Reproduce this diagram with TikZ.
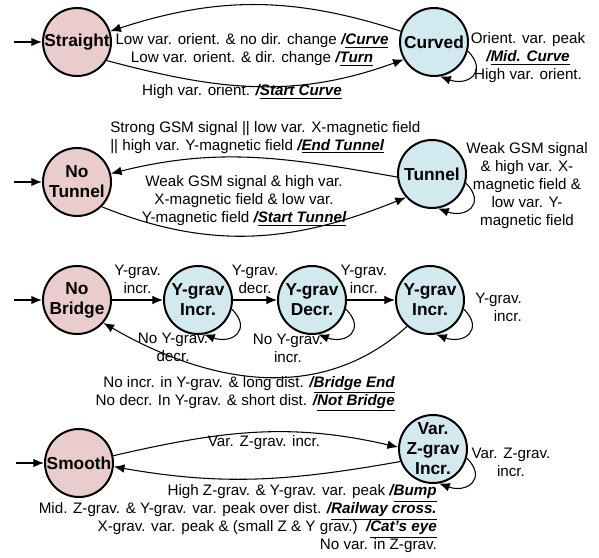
\documentclass[tikz,border=0pt]{standalone}
\usepackage{fontspec}
\setmainfont{Liberation Sans}
\usetikzlibrary{arrows.meta}
\definecolor{initfill}{RGB}{234,204,204}
\definecolor{statefill}{RGB}{210,233,240}
\newcommand{\actn}[1]{\textbf{\textit{/\underline{#1}}}}

\begin{document}
\begin{tikzpicture}[x=0.75pt,y=0.75pt,
  state/.style={circle,draw,line width=1.5pt,fill=statefill,minimum size=51pt,inner sep=0pt,align=center,font=\fontsize{13}{15}\selectfont\bfseries},
  init/.style={state,fill=initfill},
  trans/.style={-{Latex[length=8pt,width=6.5pt]},line width=0.8pt},
  entry/.style={trans,line width=1.2pt},
  selfloop/.style={trans,out=-45,in=-20,looseness=2},
  lbl/.style={font=\fontsize{11.4}{13.5}\selectfont,inner sep=0pt}]
\useasboundingbox (0,0) rectangle (599,557);

% straight / curved
\node[init] (str) at (77,515) {Straight};
\node[state] (curv) at (434,515) {Curved};
\coordinate (str0) at (14,515);
\draw[entry] (str0) -- (str);
\draw[trans] (curv) to[bend right=18] (str);
\draw[trans] (str.-32) to[out=-15,in=200] (curv.-150);
\draw[selfloop] (curv.-15) to (curv.-80);
\node[lbl,align=center] (lowvar) at (252,507) {Low var. orient. \& no dir. change \actn{Curve}\\Low var. orient. \& dir. change \actn{Turn}};
\node[lbl] (highvar) at (242,465) {High var. orient. \actn{Start Curve}};
\node[lbl,align=center] (peak) at (528,499) {Orient. var. peak\\\actn{Mid. Curve}\\High var. orient.};

% tunnel
\node[init] (notun) at (77,375) {No\\Tunnel};
\node[state] (tun) at (432,383) {Tunnel};
\coordinate (notun0) at (14,375);
\draw[entry] (notun0) -- (notun);
\draw[trans] (tun.185) to[out=170,in=14] (notun.14);
\draw[trans] (notun.-45) to[out=-22,in=202] (tun.222);
\draw[selfloop] (tun.-15) to (tun.-80);
\node[lbl,anchor=west,align=left] (gsmoff) at (110,419.5) {Strong GSM signal || low var. X-magnetic field\\|| high var. Y-magnetic field \actn{End Tunnel}};
\node[lbl,align=center] (gsmon) at (244,356) {Weak GSM signal \& high var.\\X-magnetic field \& low var.\\Y-magnetic field \actn{Start Tunnel}};
\node[lbl,align=center] (gsmstay) at (527,371) {Weak GSM signal\\\& high var. X-\\magnetic field \&\\low var. Y-\\magnetic field};

% bridge
\node[init] (nob) at (77,257) {No\\Bridge};
\node[state] (yinc) at (198,257) {Y-grav\\Incr.};
\node[state] (ydec) at (312,257) {Y-grav\\Decr.};
\node[state] (yinc2) at (430,257) {Y-grav\\Incr.};
\coordinate (nob0) at (14,257);
\draw[entry] (nob0) -- (nob);
\draw[trans] (nob) -- node[lbl,above=4pt,align=center] (incup) {Y-grav.\\incr.} (yinc);
\draw[trans] (yinc) -- node[lbl,above=4pt,align=center] (decup) {Y-grav.\\decr.} (ydec);
\draw[trans] (ydec) -- node[lbl,above=4pt,align=center,pos=0.35] (incup2) {Y-grav.\\incr.} (yinc2);
\draw[selfloop] (yinc.-15) to (yinc.-80);
\draw[selfloop] (ydec.-15) to (ydec.-80);
\draw[selfloop] (yinc2.-15) to (yinc2.-80);
\node[lbl,align=center] (nodec) at (173,210) {No Y-grav.\\decr.};
\node[lbl,align=center] (noinc) at (288,209) {No Y-grav.\\incr.};
\node[lbl,anchor=east,align=right] (incstay) at (522,249.5) {Y-grav.\\incr.};
\draw[trans] (yinc2.229) to[out=222,in=-30] (nob.-41);
\node[lbl,anchor=east,align=right] (bridgeend) at (395,163) {No incr. in Y-grav. \& long dist. \actn{Bridge End}\\No decr. In Y-grav. \& short dist. \actn{Not Bridge}};

% smooth
\node[init] (smo) at (79,94) {Smooth};
\node[state,inner sep=-3pt] (zinc) at (433,108) {Var.\\Z-grav\\Incr.};
\coordinate (smo0) at (16,94);
\draw[entry] (smo0) -- (smo);
\draw[trans] (smo.12) to[out=13,in=167] (zinc.177);
\draw[trans] (zinc.201) to[out=190,in=-10] (smo.-6);
\draw[selfloop] (zinc.-15) to (zinc.-80);
\node[lbl] (zup) at (264,114) {Var. Z-grav. incr.};
\node[lbl,align=center] (zstay) at (511,95) {Var. Z-grav.\\incr.};
\node[lbl,anchor=east,align=right] (zdown) at (437,38) {High Z-grav. \& Y-grav. var. peak \actn{Bump}\\Mid. Z-grav. \& Y-grav. var. peak over dist. \actn{Railway cross.}\\X-grav. var. peak \& (small Z \& Y grav.)\ \ \actn{Cat's eye}\\No var. in Z-grav.};

\end{tikzpicture}
\end{document}
